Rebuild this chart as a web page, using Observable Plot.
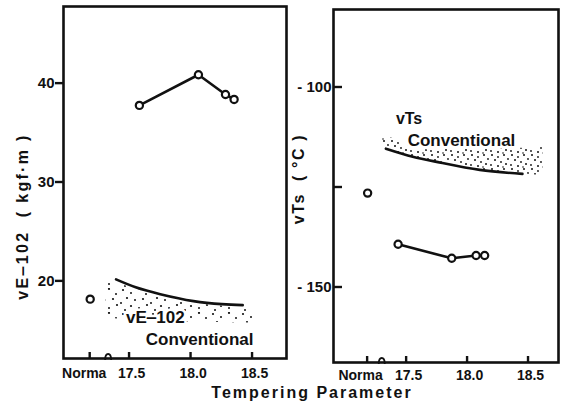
<!DOCTYPE html>
<html><head><meta charset="utf-8">
<script src="https://cdn.jsdelivr.net/npm/d3@7"></script>
<script src="https://cdn.jsdelivr.net/npm/@observablehq/plot@0.6"></script>
<style>
html,body{margin:0;padding:0;background:#fff;}
#wrap{position:relative;width:565px;height:405px;overflow:hidden;background:#fff;}
#left{position:absolute;left:0;top:0;}
#right{position:absolute;left:290px;top:0;}
#xtitle{position:absolute;left:0;width:624px;top:384px;text-align:center;font:bold 16px "Liberation Sans",Arial,sans-serif;letter-spacing:2px;color:#111;}
</style></head>
<body>
<div id="wrap"><div id="left"></div><div id="right"></div><div id="xtitle">Tempering Parameter</div></div>
<script>
// ---- data ----
const normaX = 17.18;
const breakXLeft = 17.33;
const breakXRight = 17.30;
const xTicks = [17.5, 18.0, 18.5];
const leftYTicks = [20, 30, 40];
const rightYTicks = [-100, -150];
const rightTickMarks = [-100, -125, -150];

// vE-102 (kgf·m)
const newXE = [17.58, 18.06, 18.28, 18.35];
const newYE = [37.8, 40.9, 38.9, 38.4];
const normaE = 18.2;
const convXE = [17.39, 17.55, 17.75, 18.02, 18.25, 18.42];
const convYE = [20.2, 19.4, 18.7, 18.0, 17.7, 17.6];
const bandXE = [17.31, 17.40, 17.75, 18.02, 18.42, 18.52];
const bandTopE = [19.7, 19.8, 18.4, 17.8, 17.3, 17.2];
const bandBotE = [16.3, 16.2, 16.0, 15.9, 15.8, 15.8];

// vTs (°C)
const newXT = [17.43, 17.87, 18.07, 18.14];
const newYT = [-139.2, -142.7, -142.0, -142.0];
const normaT = -126.4;
const convXT = [17.33, 17.55, 17.78, 18.10, 18.45];
const convYT = [-115.3, -117.3, -118.8, -120.6, -121.6];
const bandXT = [17.29, 17.42, 17.55, 17.78, 18.10, 18.45, 18.62];
const bandTopT = [-112.5, -113.0, -115.2, -115.5, -115.5, -115.2, -115.0];
const bandBotT = [-114.8, -116.4, -117.3, -118.8, -120.6, -121.6, -122.0];

const FONT = '"Liberation Sans", Arial, sans-serif';
const INK = "#111";

function stipple(id, w, h, dots) {
  return () => {
    const defs = d3.create("svg:defs");
    const p = defs.append("pattern").attr("id", id).attr("patternUnits", "userSpaceOnUse")
      .attr("width", w).attr("height", h);
    for (const [cx, cy, r] of dots) p.append("circle").attr("cx", cx).attr("cy", cy).attr("r", r).attr("fill", INK);
    return defs.node();
  };
}

// tick marks and the axis-break glyph, drawn through the plot's own scales
function tickMarks(xVals, yVals, yLen, breakX) {
  return (index, scales, values, dim) => {
    const g = d3.create("svg:g").attr("stroke", INK).attr("fill", "none");
    const bottom = dim.height - dim.marginBottom, left = dim.marginLeft;
    for (const t of xVals) {
      const x = scales.x(t);
      g.append("path").attr("stroke-width", 2.4).attr("d", `M${x},${bottom}V${bottom - 6}`);
    }
    for (const t of yVals) {
      const y = scales.y(t);
      g.append("path").attr("stroke-width", 2.4).attr("d", `M${left},${y}H${left + yLen}`);
    }
    const bx = scales.x(breakX);
    g.append("path").attr("stroke-width", 1.8).attr("d", `M${bx - 3},${bottom + 2}C${bx - 3},${bottom - 6} ${bx + 3},${bottom - 6} ${bx + 3},${bottom + 2}`);
    return g.node();
  };
}

const idx = a => a.map((_, i) => i);

function panel(o) {
  const n = idx(o.newX), c = idx(o.convX), b = idx(o.bandX);
  const svg = Plot.plot({
    width: o.width, height: 405,
    marginTop: o.mt, marginRight: o.mr, marginBottom: o.mb, marginLeft: o.ml,
    style: {fontFamily: FONT, fontWeight: "bold", color: INK, background: "#fff"},
    x: {domain: o.xDomain, axis: null},
    y: {domain: o.yDomain, axis: null},
    marks: [
      stipple(o.pid, o.pw, o.ph, o.pdots),
      Plot.areaY(b, {x: i => o.bandX[i], y1: i => o.bandBot[i], y2: i => o.bandTop[i], fill: `url(#${o.pid})`, curve: "natural"}),
      Plot.line(c, {x: i => o.convX[i], y: i => o.convY[i], stroke: INK, strokeWidth: 2.6, curve: "natural"}),
      Plot.line(n, {x: i => o.newX[i], y: i => o.newY[i], stroke: INK, strokeWidth: 2.6}),
      Plot.dot(n, {x: i => o.newX[i], y: i => o.newY[i], r: 3.6, stroke: INK, strokeWidth: 2.2, fill: "#fff"}),
      Plot.dot([0], {x: () => normaX, y: () => o.normaY, r: 3.6, stroke: INK, strokeWidth: 2.2, fill: "#fff"}),
      ...o.labels.map(l => Plot.text([l.text], {x: () => l.x, y: () => l.y, text: d => d, fontSize: l.size, fill: INK,
        stroke: "#fff", strokeWidth: 5, fontWeight: "bold", textAnchor: "middle"})),
      Plot.frame({stroke: INK, strokeWidth: 2.6}),
      tickMarks([normaX, ...xTicks], o.yTickVals, o.yTickLen, o.breakX),
      Plot.axisX({ticks: xTicks, tickSize: 0, tickPadding: o.xPad, fontSize: 14, fontWeight: "bold", dx: 2, label: null}),
      Plot.axisX({ticks: [normaX], tickSize: 0, tickPadding: o.xPad, fontSize: 14, fontWeight: "bold", dx: o.normaDx, tickFormat: () => "Norma", label: null}),
      Plot.axisY({ticks: o.yLabelTicks, tickSize: 0, tickPadding: o.yPad, fontSize: 15, fontWeight: "bold", tickFormat: o.yFormat, label: null}),
      Plot.text([o.yTitle], {frameAnchor: "left", text: d => d, rotate: -90, textAnchor: "middle", dx: o.ytDx, dy: o.ytDy, fontSize: 16, fontWeight: "bold", fill: INK})
    ]
  });
  d3.select(svg).selectAll("text").filter(function() { return this.textContent === o.yTitle; })
    .style("letter-spacing", o.ytLs);
  return svg;
}

const left = panel({
  width: 290, mt: 6, mr: 4, mb: 47, ml: 63,
  xDomain: [16.963, 18.776], yDomain: [12.2, 47.8],
  newX: newXE, newY: newYE, normaY: normaE,
  convX: convXE, convY: convYE,
  bandX: bandXE, bandTop: bandTopE, bandBot: bandBotE,
  pid: "stipL", pw: 30, ph: 24,
  pdots: [[3,2,1.1],[11,5,1],[19,1,1.1],[26,6,1],[7,10,1.1],[15,12,1],[23,11,1.1],[1,15,1],[11,18,1.1],[19,20,1],[27,17,1.1],[5,22,1]],
  labels: [
    {text: "vE\u2012102", x: 17.71, y: 16.3, size: 17},
    {text: "Conventional", x: 18.07, y: 14.1, size: 17}
  ],
  xPad: 10, normaDx: -6, breakX: breakXLeft,
  yTickVals: leftYTicks, yTickLen: -8, yLabelTicks: leftYTicks, yPad: 9, yFormat: d => String(d),
  yTitle: "vE\u2012102  ( kgf\u00b7m )", ytDx: -41, ytDy: 34, ytLs: "2.3px"
});

const right = panel({
  width: 275, mt: 9, mr: 7, mb: 43, ml: 43,
  xDomain: [16.90, 18.746], yDomain: [-168.75, -80.5],
  newX: newXT, newY: newYT, normaY: normaT,
  convX: convXT, convY: convYT,
  bandX: bandXT, bandTop: bandTopT, bandBot: bandBotT,
  pid: "stipR", pw: 20, ph: 14,
  pdots: [[2,1,1],[8,3,0.9],[14,1,1],[18,5,0.9],[5,6,1],[11,8,0.9],[16,10,1],[1,11,0.9],[8,12,1],[13,13,0.8]],
  labels: [
    {text: "vTs", x: 17.52, y: -107.8, size: 16},
    {text: "Conventional", x: 17.95, y: -113.2, size: 17}
  ],
  xPad: 8, normaDx: -7, breakX: breakXRight,
  yTickVals: rightTickMarks, yTickLen: 9, yLabelTicks: rightYTicks, yPad: 2, yFormat: d => "- " + Math.abs(d),
  yTitle: "vTs  ( \u00b0C )", ytDx: -35, ytDy: -7, ytLs: "1.6px"
});

document.getElementById("left").appendChild(left);
document.getElementById("right").appendChild(right);
</script>
</body></html>
